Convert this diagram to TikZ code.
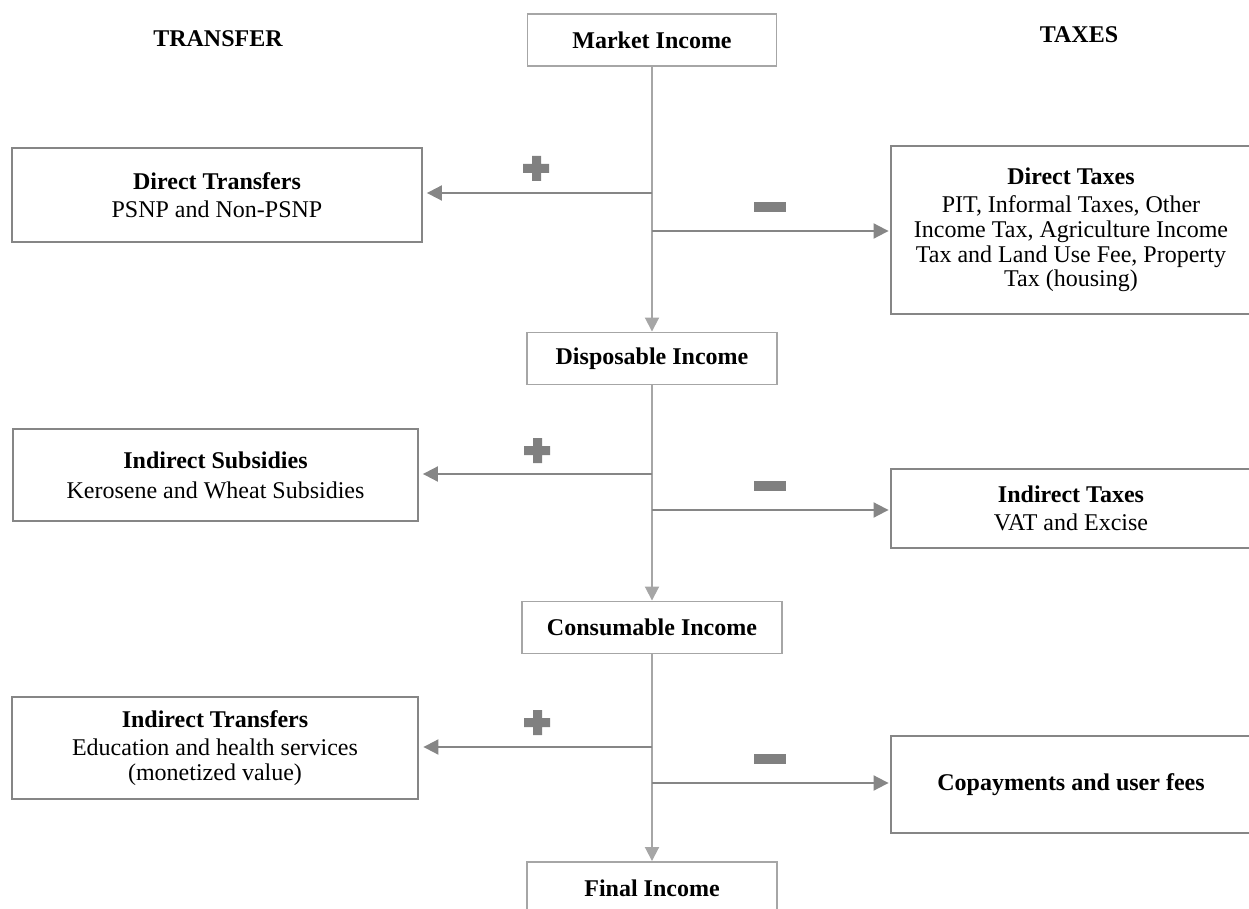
\documentclass[tikz,border=0pt]{standalone}
\usepackage{fontspec}
\setmainfont{Liberation Serif}
\usepackage{tikz}
\usetikzlibrary{arrows.meta,positioning,calc}
\definecolor{flowgray}{RGB}{166,166,166}
\definecolor{sidegray}{RGB}{134,134,134}
\definecolor{signgray}{RGB}{128,128,128}
\newcommand{\diagfont}{\fontsize{13.66}{14.2}\selectfont}
\tikzstyle{incbox} = [draw=flowgray, line width=1.1pt, fill=white, inner sep=0pt, minimum height=1.04cm, font=\diagfont\bfseries, align=center]
\tikzstyle{sidebox} = [draw=sidegray, line width=1.1pt, inner sep=0pt, font=\diagfont, align=center]
\tikzstyle{flow} = [line width=1.1pt, ->, >={Triangle[length=0.28cm,width=0.28cm]}, color=flowgray]
\tikzstyle{branch} = [line width=1.1pt, ->, >={Triangle[length=0.3cm,width=0.3cm]}, color=sidegray]
\tikzstyle{sign} = [fill=signgray]

\begin{document}
\begin{tikzpicture}[x=0.02cm, y=-0.02cm]
    \useasboundingbox (0,0) rectangle (1249,909);

    % Column heads
    \node[font=\diagfont\bfseries] (trn) at (218,39) {TRANSFER};
    \node[font=\diagfont\bfseries] (tax) at (1079,35) {TAXES};

    % Income stages
    \node[incbox, minimum width=4.98cm] (mkt) at (652,40) {Market Income};
    \node[incbox, minimum width=5cm] (dsp) at (652,358.5) {Disposable Income};
    \node[incbox, minimum width=5.2cm] (con) at (652,627.5) {Consumable Income};
    \node[incbox, minimum width=5cm] (fin) at (652,888) {Final Income};

    % Transfers
    \node[sidebox, minimum width=8.2cm, minimum height=1.88cm] (dtr) at (217,195)
        {\textbf{Direct Transfers}\\[1.5pt] PSNP and Non-PSNP};
    \node[sidebox, minimum width=8.1cm, minimum height=1.84cm] (isub) at (215.5,475)
        {\textbf{Indirect Subsidies}\\[3pt] Kerosene and Wheat Subsidies};
    \node[sidebox, minimum width=8.14cm, minimum height=2.04cm] (itr) at (215,748)
        {\textbf{Indirect Transfers}\\[1.5pt] Education and health services\\ (monetized value)};

    % Taxes
    \node[sidebox, minimum width=7.2cm, minimum height=3.36cm] (dtx) at (1071,230)
        {\textbf{Direct Taxes}\\[1.5pt] PIT, Informal Taxes, Other\\ Income Tax, Agriculture Income\\
         Tax and Land Use Fee, Property\\ Tax (housing)};
    \node[sidebox, minimum width=7.2cm, minimum height=1.58cm] (itx) at (1071,508.5)
        {\textbf{Indirect Taxes}\\[1.5pt] VAT and Excise};
    \node[sidebox, minimum width=7.2cm, minimum height=1.94cm] (cop) at (1071,784.5)
        {\textbf{Copayments and user fees}};

    % Main flow
    \draw[flow] (mkt.south) -- (dsp.north);
    \draw[flow] (dsp.south) -- (con.north);
    \draw[flow] (con.south) -- (fin.north);

    % Branch points
    \coordinate (l1) at (652,193);
    \coordinate (r1) at (652,231);
    \coordinate (l2) at (652,474);
    \coordinate (r2) at (652,510);
    \coordinate (l3) at (652,747);
    \coordinate (r3) at (652,783);

    % Branches
    \draw[branch, shorten >=0.08cm] (l1) -- (l1 -| dtr.east);
    \draw[branch, shorten >=0.03cm] (r1) -- (r1 -| dtx.west);
    \draw[branch, shorten >=0.08cm] (l2) -- (l2 -| isub.east);
    \draw[branch, shorten >=0.03cm] (r2) -- (r2 -| itx.west);
    \draw[branch, shorten >=0.08cm] (l3) -- (l3 -| itr.east);
    \draw[branch, shorten >=0.03cm] (r3) -- (r3 -| cop.west);

    % Plus signs
    \fill[sign] (523,164) rectangle (549,173) (532,156) rectangle (541,181);
    \fill[sign] (524,446) rectangle (550,455) (533,438) rectangle (542,463);
    \fill[sign] (524,718) rectangle (550,727) (533,710) rectangle (542,735);

    % Minus signs
    \fill[sign] (754,202) rectangle (786,212);
    \fill[sign] (754,481) rectangle (786,491);
    \fill[sign] (754,754) rectangle (786,764);
\end{tikzpicture}
\end{document}
